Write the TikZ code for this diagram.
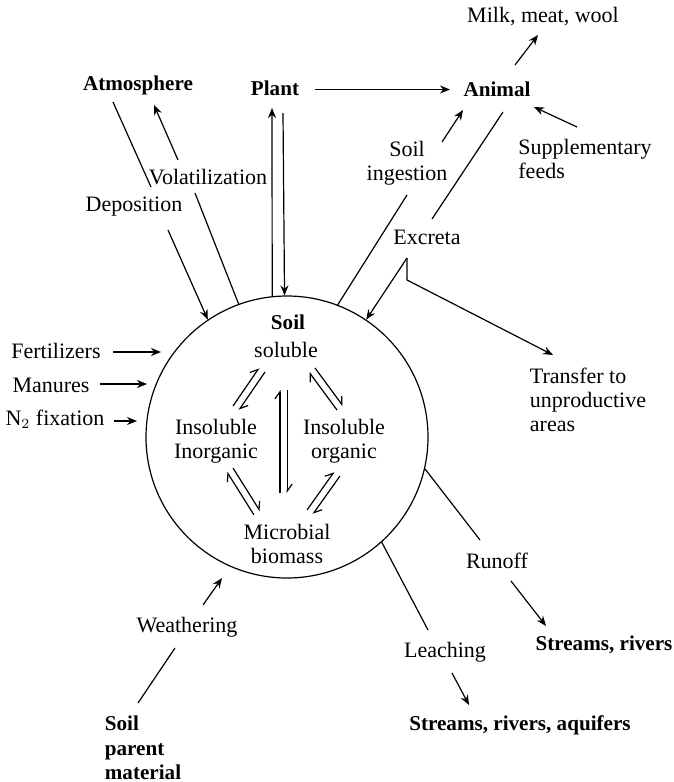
\documentclass[tikz,border=0pt]{standalone}
\usepackage{fontspec}
\setmainfont{Liberation Serif}[Scale=1.1]
\usetikzlibrary{arrows.meta,calc}

\tikzset{
  flow/.style={-{Stealth[length=5pt,width=4pt]}},
  harp/.style={-{Straight Barb[left,length=3.5pt,width=5pt]}},
  pool/.style={inner sep=0pt,align=center},
  sink/.style={inner sep=0pt,align=center,font=\bfseries\fontsize{9.6}{12.2}\selectfont},
}

% reversible transfer between two pools
\newcommand{\eqpair}[2]{%
  \draw[harp] ($#1!1.8pt!90:#2$) -- ($#2!1.8pt!-90:#1$);
  \draw[harp] ($#2!1.8pt!90:#1$) -- ($#1!1.8pt!-90:#2$);
}

\begin{document}
\begin{tikzpicture}[x=0.5pt,y=-0.5pt,line width=0.6pt]
  \useasboundingbox (0,0) rectangle (674,782);

  % soil pool and its fractions
  \node[draw,circle,minimum size=141pt,inner sep=0pt] (soil) at (287,437) {};
  \node[sink] (soiltitle) at (288,322) {Soil};
  \node[pool] (soluble) at (286,350) {soluble};
  \node[pool] (inorg) at (216,441) {Insoluble\\Inorganic};
  \node[pool] (org) at (344,441) {Insoluble\\organic};
  \node[pool] (micro) at (287,544) {Microbial\\biomass};

  \eqpair{(236,408)}{(262,370)}
  \eqpair{(312,370)}{(340,408)}
  \eqpair{(283.5,493)}{(283.5,390)}
  \eqpair{(230,470)}{(257,513)}
  \eqpair{(310,512)}{(337,474)}

  % outside pools
  \node[sink] (atmos) at (138,85) {Atmosphere};
  \node[sink] (plant) at (275,88) {Plant};
  \node[sink] (animal) at (497,89) {Animal};
  \node[pool] (milk) at (543,17) {Milk, meat, wool};
  \node[pool,align=left] (supp) at (585,159) {Supplementary\\feeds};
  \node[pool] (ingest) at (407,163) {Soil\\ingestion};
  \node[pool] (volat) at (208,177) {Volatilization};
  \node[pool] (depos) at (134,207) {Deposition};
  \node[pool] (excreta) at (427,237) {Excreta};
  \node[pool] (fert) at (56,351) {Fertilizers};
  \node[pool] (manure) at (51,385) {Manures};
  \node[pool] (nfix) at (55,419) {N$_2$ fixation};
  \node[pool,align=left] (transfer) at (588,400) {Transfer to\\unproductive\\areas};
  \node[pool] (weather) at (187,627) {Weathering};
  \node[sink,align=left] (parent) at (143,748) {Soil\\parent\\material};
  \node[pool] (runoff) at (497,561) {Runoff};
  \node[sink] (streams) at (604,645) {Streams, rivers};
  \node[pool] (leach) at (445,652) {Leaching};
  \node[sink] (aquifer) at (520,725) {Streams, rivers, aquifers};

  % plant and animal
  \draw[flow] ($(plant)+(40,1.5)$) -- ($(animal)+(-47,0.5)$);
  \draw[flow] ($(animal)+(18,-24)$) -- ($(milk)+(-5,18)$);
  \draw[flow] ($(supp)+(-8,-32)$) -- ($(animal)+(37,18)$);
  \draw[flow] ($(ingest)+(35,-21)$) -- ($(animal)+(-34,21)$);
  \draw (soil.69) -- ($(ingest)+(0,32)$);
  \draw ($(animal)+(6,23)$) -- ($(excreta)+(5,-18)$);
  \draw[flow] ($(excreta)+(-20,21)$) -- (soil.56);
  \draw[flow] ($(excreta)+(-20,21)$) -- ++(0,22) -- ($(transfer)+(-35,-45)$);
  \draw[flow] (soil.96) -- ($(plant)+(-3,20)$);
  \draw[flow] ($(plant)+(8,25)$) -- (soil.91.5);

  % atmosphere
  \draw (soil.110) -- ($(volat)+(-13,16)$);
  \draw[flow] ($(volat)+(-30,-17)$) -- ($(atmos)+(16,20)$);
  \draw ($(atmos)+(-25,17)$) -- ($(depos)+(17,-20)$);
  \draw[flow] ($(depos)+(34,23)$) -- (soil.124);

  % inputs
  \draw[flow] ($(fert)+(57,1)$) -- ($(fert)+(105,1)$);
  \draw[flow] ($(manure)+(49,-1)$) -- ($(manure)+(96,-1)$);
  \draw[flow] ($(nfix)+(59,2)$) -- ($(nfix)+(82,2)$);
  \draw[flow] ($(weather)+(16,-22)$) -- ($(weather)+(35,-49)$);
  \draw ($(parent)+(-5,-45)$) -- ($(weather)+(-12,21)$);

  % losses
  \draw (soil.-13) -- ($(runoff)+(-17,-21)$);
  \draw[flow] ($(runoff)+(14,20)$) -- ($(streams)+(-58,-19)$);
  \draw (soil.-48) -- ($(leach)+(-17,-22)$);
  \draw[flow] ($(leach)+(7,21)$) -- ($(aquifer)+(-51,-20)$);
\end{tikzpicture}
\end{document}
